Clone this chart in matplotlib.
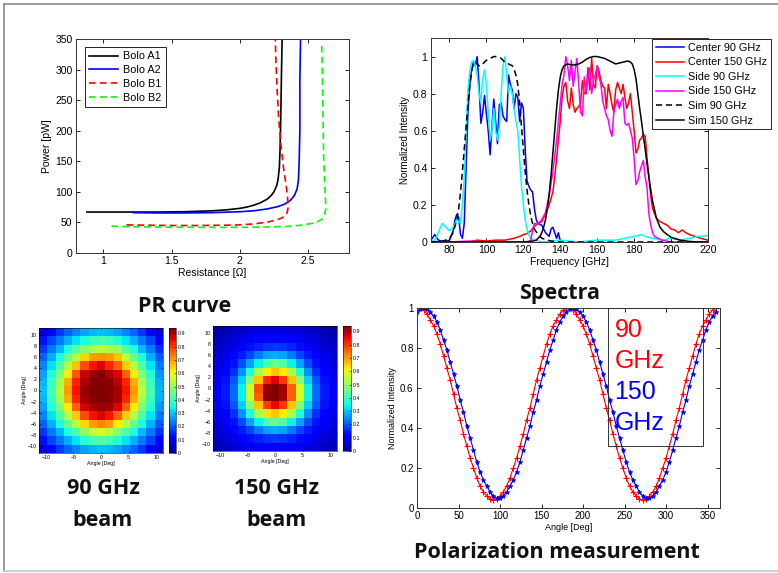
import numpy as np
import matplotlib
matplotlib.use("Agg")
import matplotlib.pyplot as plt
from matplotlib.lines import Line2D
from matplotlib.patches import Rectangle

plt.rcParams['font.family'] = ['Liberation Sans', 'DejaVu Sans']

W, H = 778, 573

# ---- PR curve data (Resistance [Ohm], Power [pW]) ----
r_a1 = [0.88, 1.0, 1.2, 1.4, 1.6, 1.8, 1.9, 2.0, 2.05, 2.1, 2.15, 2.2, 2.23, 2.25, 2.27, 2.28, 2.29, 2.295, 2.3, 2.305, 2.31]
p_a1 = [67, 67, 67, 67, 67.5, 69, 70.5, 73, 75, 78, 82, 88, 94, 100, 110, 120, 140, 170, 220, 290, 350]
r_a2 = [1.22, 1.4, 1.6, 1.8, 2.0, 2.1, 2.2, 2.28, 2.33, 2.37, 2.4, 2.42, 2.43, 2.435, 2.44, 2.44, 2.445]
p_a2 = [66, 65.5, 65.5, 66, 67.5, 69, 72, 76, 80, 86, 94, 105, 120, 150, 200, 280, 350]
r_b1 = [1.17, 1.3, 1.5, 1.7, 1.9, 2.0, 2.1, 2.2, 2.26, 2.3, 2.33, 2.345, 2.355, 2.35, 2.34, 2.32, 2.3, 2.285, 2.275, 2.265, 2.26]
p_b1 = [46, 45.5, 45, 45, 45.5, 46, 47.5, 50.5, 53.5, 56.5, 60, 65, 75, 90, 110, 140, 180, 220, 260, 310, 350]
r_b2 = [1.06, 1.2, 1.4, 1.6, 1.8, 2.0, 2.2, 2.35, 2.45, 2.52, 2.57, 2.6, 2.62, 2.63, 2.625, 2.615, 2.61, 2.605, 2.6]
p_b2 = [44, 43, 42.5, 42, 42, 42, 42.5, 43.5, 45.5, 48, 51, 55, 62, 72, 100, 150, 220, 290, 341]

# ---- Spectra data (Frequency [GHz], Normalized intensity) ----
f_c90 = [70, 72, 74, 77, 80] + list(range(82, 129)) + [130, 132, 134, 135, 136, 137, 138, 139, 140]
i_c90 = [0.01, 0.04, 0.01, 0.0, 0.01,
         0.06, 0.12, 0.15, 0.13, 0.04, 0.02, 0.1, 0.4, 0.7, 0.85, 0.93, 0.97, 0.95, 1.0, 0.85, 0.64,
         0.7, 0.79, 0.69, 0.6, 0.47, 0.62, 0.77, 0.65, 0.53, 0.74, 0.75, 0.68, 0.66, 0.65, 0.9, 0.85,
         0.82, 0.72, 0.8, 0.78, 0.65, 0.75, 0.72, 0.5, 0.33, 0.3, 0.28, 0.27, 0.18, 0.12, 0.1,
         0.09, 0.05, 0.03, 0.07, 0.08, 0.05, 0.02, 0.05, 0.0]
f_c150 = [70, 80, 90, 95, 100, 105, 110, 115, 118, 120, 122, 124, 126, 128, 130, 132, 134] + \
         list(range(136, 191)) + [192, 194, 196, 198, 200, 202, 204, 206, 208, 210, 213, 216, 220]
i_c150 = [0.0, 0.0, 0.0, 0.01, 0.005, 0.01, 0.01, 0.02, 0.03, 0.04, 0.045, 0.06, 0.085, 0.1, 0.11, 0.15, 0.2,
          0.27, 0.35, 0.45, 0.55, 0.65, 0.78, 0.84, 0.86, 0.76, 0.72, 0.83, 0.74, 0.7, 0.72, 0.73,
          0.75, 0.87, 0.8, 0.8, 0.94, 0.82, 0.99, 0.85, 0.83, 0.95, 0.92, 0.87, 0.84, 0.83, 0.72,
          0.85, 0.8, 0.74, 0.7, 0.82, 0.86, 0.83, 0.8, 0.85, 0.78, 0.72, 0.75, 0.8, 0.7, 0.6,
          0.48, 0.5, 0.55, 0.56, 0.58, 0.57, 0.45, 0.35, 0.25, 0.18,
          0.13, 0.11, 0.1, 0.09, 0.07, 0.065, 0.05, 0.065, 0.05, 0.04, 0.03, 0.02, 0.01]
f_s90 = [70, 72, 74, 76, 78, 80, 82, 84, 86] + list(range(87, 125)) + \
        [126, 130, 140, 150, 160, 170, 175, 180, 184, 186, 190, 195, 200, 205, 210, 215, 220]
i_s90 = [0.0, 0.01, 0.05, 0.1, 0.08, 0.06, 0.08, 0.12, 0.1,
         0.2, 0.35, 0.6, 0.82, 0.92, 0.97, 0.98, 0.95, 0.9, 0.8, 0.75, 0.88, 0.93, 0.85, 0.7, 0.55,
         0.6, 0.72, 0.6, 0.55, 0.62, 0.8, 0.95, 1.0, 0.9, 0.8, 0.84, 0.8, 0.72, 0.65, 0.6, 0.45,
         0.3, 0.2, 0.12, 0.07, 0.04, 0.02,
         0.01, 0.0, 0.01, 0.0, 0.01, 0.01, 0.02, 0.03, 0.04, 0.03, 0.02, 0.01, 0.02, 0.01, 0.02, 0.03, 0.035]
f_s150 = [70, 80, 90, 100, 110, 120, 123, 124, 125, 126, 128, 130, 132, 134, 136, 138] + \
         list(range(139, 192)) + [193, 195, 200, 210, 220]
i_s150 = [0.0, 0.0, 0.005, 0.0, 0.0, 0.0, 0.0, 0.01, 0.06, 0.1, 0.1, 0.12, 0.16, 0.25, 0.38, 0.55,
          0.65, 0.75, 0.85, 0.9, 1.0, 0.95, 0.87, 0.98, 0.84, 0.92, 0.99, 0.85, 0.7, 0.68, 0.89,
          0.81, 0.88, 0.94, 0.8, 0.87, 0.9, 0.95, 0.89, 0.85, 0.76, 0.72, 0.68, 0.66, 0.6, 0.57,
          0.7, 0.74, 0.77, 0.72, 0.76, 0.78, 0.64, 0.63, 0.64, 0.6, 0.56, 0.45, 0.31, 0.33, 0.38,
          0.41, 0.44, 0.35, 0.29, 0.15, 0.09, 0.05, 0.03,
          0.02, 0.01, 0.0, 0.0, 0.0]
f_sim90 = [70, 74, 78, 80, 82, 84] + list(range(85, 99)) + [100, 102, 104, 106, 108, 110, 112, 114] + \
          list(range(115, 127)) + [128, 130, 135, 140, 160, 180, 200, 220]
i_sim90 = [0.0, 0.0, 0.01, 0.02, 0.05, 0.12,
           0.18, 0.27, 0.38, 0.5, 0.62, 0.74, 0.84, 0.92, 0.96, 0.97, 0.96, 0.95, 0.95, 0.96,
           0.98, 0.99, 1.0, 1.0, 0.99, 0.97, 0.96, 0.95,
           0.93, 0.9, 0.85, 0.75, 0.62, 0.5, 0.38, 0.28, 0.2, 0.14, 0.1, 0.07,
           0.04, 0.02, 0.005, 0.0, 0.0, 0.0, 0.0, 0.0]
f_sim150 = [70, 100, 120, 125, 127, 129] + list(range(130, 143)) + list(range(144, 177, 2)) + \
           list(range(177, 191)) + [192, 194, 196, 198, 200, 205, 210, 215, 220]
i_sim150 = [0.0, 0.0, 0.0, 0.005, 0.01, 0.03,
            0.05, 0.08, 0.12, 0.18, 0.26, 0.36, 0.48, 0.6, 0.72, 0.82, 0.89, 0.93, 0.95,
            0.96, 0.955, 0.955, 0.96, 0.97, 0.985, 0.995, 1.0, 1.0, 0.995, 0.99, 0.98, 0.97, 0.96,
            0.965, 0.97, 0.975,
            0.975, 0.97, 0.96, 0.93, 0.88, 0.8, 0.72, 0.65, 0.57, 0.5, 0.42, 0.35, 0.28, 0.22,
            0.13, 0.08, 0.055, 0.04, 0.025, 0.01, 0.003, 0.0, 0.0]

# ---- Beam maps (15 x 15 cells, top row = +10.5 deg) ----
beam_90 = [
    [0.08, 0.12, 0.17, 0.21, 0.24, 0.27, 0.29, 0.30, 0.29, 0.27, 0.24, 0.21, 0.17, 0.12, 0.07],
    [0.13, 0.18, 0.23, 0.28, 0.33, 0.37, 0.40, 0.41, 0.40, 0.37, 0.33, 0.28, 0.23, 0.18, 0.12],
    [0.17, 0.23, 0.29, 0.36, 0.43, 0.48, 0.52, 0.54, 0.52, 0.50, 0.42, 0.36, 0.29, 0.23, 0.16],
    [0.21, 0.28, 0.36, 0.45, 0.53, 0.64, 0.70, 0.71, 0.70, 0.66, 0.55, 0.45, 0.36, 0.28, 0.20],
    [0.24, 0.33, 0.42, 0.53, 0.66, 0.78, 0.84, 0.86, 0.82, 0.76, 0.65, 0.53, 0.42, 0.33, 0.23],
    [0.27, 0.37, 0.48, 0.62, 0.77, 0.88, 0.92, 0.94, 0.90, 0.86, 0.76, 0.62, 0.48, 0.37, 0.26],
    [0.29, 0.40, 0.52, 0.68, 0.82, 0.90, 0.94, 0.93, 0.93, 0.89, 0.82, 0.68, 0.52, 0.40, 0.28],
    [0.30, 0.41, 0.54, 0.70, 0.84, 0.92, 0.94, 0.94, 0.93, 0.91, 0.84, 0.70, 0.54, 0.41, 0.29],
    [0.29, 0.40, 0.52, 0.68, 0.82, 0.91, 0.93, 0.94, 0.93, 0.90, 0.82, 0.68, 0.52, 0.40, 0.28],
    [0.27, 0.37, 0.48, 0.62, 0.76, 0.87, 0.91, 0.92, 0.91, 0.86, 0.76, 0.62, 0.48, 0.37, 0.26],
    [0.24, 0.33, 0.42, 0.53, 0.65, 0.78, 0.84, 0.86, 0.84, 0.76, 0.65, 0.53, 0.42, 0.33, 0.23],
    [0.21, 0.28, 0.36, 0.45, 0.54, 0.64, 0.70, 0.72, 0.70, 0.62, 0.53, 0.45, 0.36, 0.28, 0.20],
    [0.17, 0.23, 0.29, 0.36, 0.42, 0.50, 0.56, 0.57, 0.54, 0.48, 0.42, 0.36, 0.29, 0.23, 0.16],
    [0.13, 0.18, 0.23, 0.28, 0.33, 0.37, 0.41, 0.42, 0.40, 0.37, 0.33, 0.28, 0.23, 0.18, 0.12],
    [0.08, 0.12, 0.17, 0.21, 0.24, 0.27, 0.29, 0.30, 0.29, 0.27, 0.24, 0.21, 0.17, 0.12, 0.07],
]
beam_150 = [
    [0.035, 0.044, 0.055, 0.065, 0.073, 0.08, 0.083, 0.085, 0.083, 0.08, 0.073, 0.065, 0.055, 0.044, 0.035],
    [0.045, 0.058, 0.071, 0.082, 0.095, 0.11, 0.115, 0.12, 0.115, 0.11, 0.095, 0.082, 0.071, 0.058, 0.045],
    [0.057, 0.072, 0.087, 0.11, 0.13, 0.15, 0.165, 0.17, 0.165, 0.15, 0.13, 0.11, 0.087, 0.072, 0.057],
    [0.068, 0.085, 0.11, 0.14, 0.18, 0.23, 0.27, 0.28, 0.27, 0.23, 0.18, 0.14, 0.11, 0.085, 0.068],
    [0.078, 0.10, 0.135, 0.19, 0.27, 0.345, 0.42, 0.45, 0.42, 0.345, 0.27, 0.19, 0.135, 0.10, 0.078],
    [0.087, 0.12, 0.165, 0.25, 0.37, 0.52, 0.62, 0.66, 0.62, 0.52, 0.37, 0.25, 0.165, 0.12, 0.087],
    [0.095, 0.135, 0.20, 0.31, 0.48, 0.66, 0.82, 0.86, 0.80, 0.66, 0.48, 0.31, 0.20, 0.135, 0.095],
    [0.10, 0.14, 0.22, 0.345, 0.57, 0.78, 0.92, 0.94, 0.91, 0.76, 0.57, 0.345, 0.22, 0.14, 0.10],
    [0.10, 0.14, 0.22, 0.345, 0.57, 0.76, 0.93, 0.94, 0.90, 0.76, 0.57, 0.345, 0.22, 0.14, 0.10],
    [0.095, 0.135, 0.20, 0.31, 0.48, 0.66, 0.80, 0.85, 0.80, 0.66, 0.48, 0.31, 0.20, 0.135, 0.095],
    [0.087, 0.12, 0.165, 0.25, 0.37, 0.52, 0.63, 0.66, 0.62, 0.52, 0.37, 0.25, 0.165, 0.12, 0.087],
    [0.078, 0.10, 0.135, 0.19, 0.27, 0.345, 0.42, 0.45, 0.42, 0.345, 0.27, 0.19, 0.135, 0.10, 0.078],
    [0.068, 0.085, 0.11, 0.14, 0.18, 0.23, 0.27, 0.28, 0.27, 0.23, 0.18, 0.14, 0.11, 0.085, 0.068],
    [0.057, 0.072, 0.087, 0.11, 0.13, 0.15, 0.165, 0.17, 0.165, 0.15, 0.13, 0.11, 0.087, 0.072, 0.057],
    [0.045, 0.058, 0.071, 0.082, 0.095, 0.11, 0.115, 0.12, 0.115, 0.11, 0.095, 0.082, 0.071, 0.058, 0.045],
]

# ---- Polarization data (Angle [Deg] every 4 deg, Normalized intensity) ----
angle = list(range(0, 361, 4))
pol_90 = [1.00, 1.00, 0.99, 0.97, 0.94, 0.91, 0.87, 0.82, 0.76, 0.70, 0.64, 0.57, 0.50, 0.44, 0.37, 0.31,
          0.25, 0.20, 0.15, 0.11, 0.08, 0.06, 0.045,
          0.04,
          0.045, 0.06, 0.08, 0.11, 0.15, 0.20, 0.25, 0.31, 0.37, 0.44, 0.50, 0.57, 0.64, 0.70, 0.76,
          0.82, 0.87, 0.91, 0.94, 0.97, 0.99,
          1.00, 1.00,
          0.99, 0.97, 0.94, 0.91, 0.87, 0.82, 0.76, 0.70, 0.64, 0.57, 0.50, 0.44, 0.37, 0.31, 0.25,
          0.20, 0.15, 0.11, 0.08, 0.06, 0.045,
          0.04,
          0.045, 0.06, 0.08, 0.11, 0.15, 0.20, 0.25, 0.31, 0.37, 0.44, 0.50, 0.57, 0.64, 0.70, 0.76,
          0.82, 0.87, 0.91, 0.94, 0.97, 0.99,
          1.00]
pol_150 = [0.98, 0.995, 1.00,
           0.995, 0.98, 0.96, 0.93, 0.89, 0.84, 0.79, 0.73, 0.67, 0.61, 0.54, 0.48, 0.41, 0.35, 0.29,
           0.23, 0.18, 0.14, 0.11, 0.08, 0.06, 0.05,
           0.05, 0.06, 0.08, 0.11, 0.14, 0.18, 0.23, 0.29, 0.35, 0.41, 0.48, 0.54, 0.61, 0.67, 0.73,
           0.79, 0.84, 0.89, 0.93, 0.96, 0.98, 0.995,
           1.00,
           0.995, 0.98, 0.96, 0.93, 0.89, 0.84, 0.79, 0.73, 0.67, 0.61, 0.54, 0.48, 0.41, 0.35, 0.29,
           0.23, 0.18, 0.14, 0.11, 0.08, 0.06, 0.05,
           0.05, 0.06, 0.08, 0.11, 0.14, 0.18, 0.23, 0.29, 0.35, 0.41, 0.48, 0.54, 0.61, 0.67, 0.73,
           0.79, 0.84, 0.89, 0.93, 0.96, 0.98]


def box(x0, y0, x1, y1):
    # pixel box (top-left origin) -> figure fraction rect
    return [x0 / W, 1 - y1 / H, (x1 - x0) / W, (y1 - y0) / H]


def matlab_axes(ax, size):
    ax.tick_params(direction='in', top=True, right=True, length=3, width=0.6,
                   labelsize=size, pad=2.5)
    for s in ax.spines.values():
        s.set_linewidth(0.7)
        s.set_color('#333333')


fig = plt.figure(figsize=(W / 100, H / 100), dpi=100)

# slide frame
fig.add_artist(Line2D([4 / W, 1], [1 - 4 / H, 1 - 4 / H], transform=fig.transFigure, color='#8a8a8a', lw=1.2))
fig.add_artist(Line2D([4 / W, 4 / W], [1 - 4 / H, 1 - 571 / H], transform=fig.transFigure, color='#8a8a8a', lw=1.2))
fig.add_artist(Line2D([4 / W, 1], [1 - 571 / H, 1 - 571 / H], transform=fig.transFigure, color='#c8c8c8', lw=1.2))

# ---- PR curve ----
ax1 = fig.add_axes(box(76, 39, 349, 253))
ax1.plot(r_a1, p_a1, color='k', lw=1.2, label='Bolo A1')
ax1.plot(r_a2, p_a2, color='b', lw=1.2, label='Bolo A2')
ax1.plot(r_b1, p_b1, color='r', lw=1.2, ls='--', dashes=(4, 2.5), label='Bolo B1')
ax1.plot(r_b2, p_b2, color='#00ff00', lw=1.2, ls='--', dashes=(4, 2.5), label='Bolo B2')
ax1.set_xlim(0.8, 2.8)
ax1.set_ylim(0, 350)
ax1.set_xticks([1, 1.5, 2, 2.5])
ax1.set_xticklabels(['1', '1.5', '2', '2.5'])
ax1.set_yticks(range(0, 351, 50))
matlab_axes(ax1, 7.5)
ax1.set_xlabel('Resistance [\u03a9]', fontsize=7.5, labelpad=1)
ax1.set_ylabel('Power [pW]', fontsize=7.5, labelpad=2)
ax1.legend(loc='upper left', bbox_to_anchor=(85 / W, 1 - 47 / H), bbox_transform=fig.transFigure,
           fontsize=7.8, frameon=True, fancybox=False, edgecolor='k', framealpha=1,
           handlelength=2.6, handletextpad=0.5, labelspacing=0.35, borderpad=0.4,
           borderaxespad=0).get_frame().set_linewidth(0.6)

# ---- Spectra ----
ax2 = fig.add_axes(box(431, 38, 708, 242))
ax2.plot(f_c90, i_c90, color='b', lw=1.1, label='Center 90 GHz')
ax2.plot(f_c150, i_c150, color='r', lw=1.1, label='Center 150 GHz')
ax2.plot(f_s90, i_s90, color='#00ffff', lw=1.1, label='Side 90 GHz')
ax2.plot(f_s150, i_s150, color='#ff00ff', lw=1.1, label='Side 150 GHz')
ax2.plot(f_sim90, i_sim90, color='k', lw=1.1, ls='--', dashes=(4, 2.5), label='Sim 90 GHz')
ax2.plot(f_sim150, i_sim150, color='k', lw=1.1, label='Sim 150 GHz')
ax2.set_xlim(70, 220)
ax2.set_ylim(0, 1.1)
ax2.set_xticks(range(80, 221, 20))
ax2.set_yticks([0, 0.2, 0.4, 0.6, 0.8, 1])
ax2.set_yticklabels(['0', '0.2', '0.4', '0.6', '0.8', '1'])
matlab_axes(ax2, 7.5)
ax2.set_xlabel('Frequency [GHz]', fontsize=7.5, labelpad=1)
ax2.set_ylabel('Normalized Intensity', fontsize=7, labelpad=2)
ax2.legend(loc='upper left', bbox_to_anchor=(652 / W, 1 - 39 / H), bbox_transform=fig.transFigure,
           fontsize=7.8, frameon=True, fancybox=False, edgecolor='k', framealpha=1,
           handlelength=2.6, handletextpad=0.4, labelspacing=0.42, borderpad=0.35,
           borderaxespad=0).get_frame().set_linewidth(0.6)

# ---- Beam maps ----
for data, rect, crect in [(beam_90, box(39, 328, 163, 453), box(169, 328, 176, 453)),
                          (beam_150, box(213, 326, 337, 451), box(343, 326, 351, 451))]:
    ax = fig.add_axes(rect)
    im = ax.imshow(np.array(data), cmap='jet', vmin=0, vmax=0.94, aspect='auto',
                   interpolation='nearest', extent=[-11.25, 11.25, -11.25, 11.25])
    ax.set_xticks([-10, -5, 0, 5, 10])
    ax.set_yticks(range(-10, 11, 2))
    ax.tick_params(direction='in', top=True, right=True, length=1.5, width=0.4,
                   labelsize=3.8, pad=1.5)
    ax.set_xlabel('Angle [Deg]', fontsize=3.8, labelpad=0.5)
    ax.set_ylabel('Angle [Deg]', fontsize=3.8, labelpad=0.5)
    for s in ax.spines.values():
        s.set_linewidth(0.4)
    cax = fig.add_axes(crect)
    cb = fig.colorbar(im, cax=cax, ticks=[0, 0.1, 0.2, 0.3, 0.4, 0.5, 0.6, 0.7, 0.8, 0.9])
    cb.ax.set_yticklabels(['0', '0.1', '0.2', '0.3', '0.4', '0.5', '0.6', '0.7', '0.8', '0.9'])
    cb.ax.tick_params(direction='in', length=1.5, width=0.4, labelsize=3.8, pad=1)
    cb.outline.set_linewidth(0.4)

# ---- Polarization ----
ax3 = fig.add_axes(box(417, 308, 720, 508))
ax3.plot(angle, pol_90, color='r', lw=0.8, marker='+', ms=4, mew=0.8)
ax3.plot(angle, pol_150, color='b', lw=0.8, marker='*', ms=3.5, mew=0.5)
ax3.set_xlim(0, 365)
ax3.set_ylim(0, 1)
ax3.set_xticks(range(0, 351, 50))
ax3.set_yticks([0, 0.2, 0.4, 0.6, 0.8, 1])
ax3.set_yticklabels(['0', '0.2', '0.4', '0.6', '0.8', '1'])
matlab_axes(ax3, 7)
ax3.set_xlabel('Angle [Deg]', fontsize=6.5, labelpad=1)
ax3.set_ylabel('Normalized Intensity', fontsize=6.5, labelpad=2)
ax3.add_patch(Rectangle((0.63, 0.31), 0.314, 0.69, transform=ax3.transAxes, fill=False,
                        edgecolor='#333333', lw=0.7, zorder=5))
for txt, yy, col in [('90', 0.89, 'r'), ('GHz', 0.735, 'r'), ('150', 0.58, 'b'), ('GHz', 0.425, 'b')]:
    ax3.text(0.652, yy, txt, transform=ax3.transAxes, color=col, fontsize=18,
             ha='left', va='center', zorder=6)

# ---- Slide captions ----
cap = dict(family=['Open Sans', 'DejaVu Sans'], fontweight='bold', fontsize=15.5,
           ha='center', va='center', color='#111111')
fig.text(185 / W, 1 - 306 / H, 'PR curve', **cap)
fig.text(560 / W, 1 - 293 / H, 'Spectra', **cap)
fig.text(103 / W, 1 - 489 / H, '90 GHz', **cap)
fig.text(103 / W, 1 - 521 / H, 'beam', **cap)
fig.text(277 / W, 1 - 489 / H, '150 GHz', **cap)
fig.text(277 / W, 1 - 521 / H, 'beam', **cap)
fig.text(557 / W, 1 - 553 / H, 'Polarization measurement', **cap)

fig.savefig('out.png', dpi=100)
